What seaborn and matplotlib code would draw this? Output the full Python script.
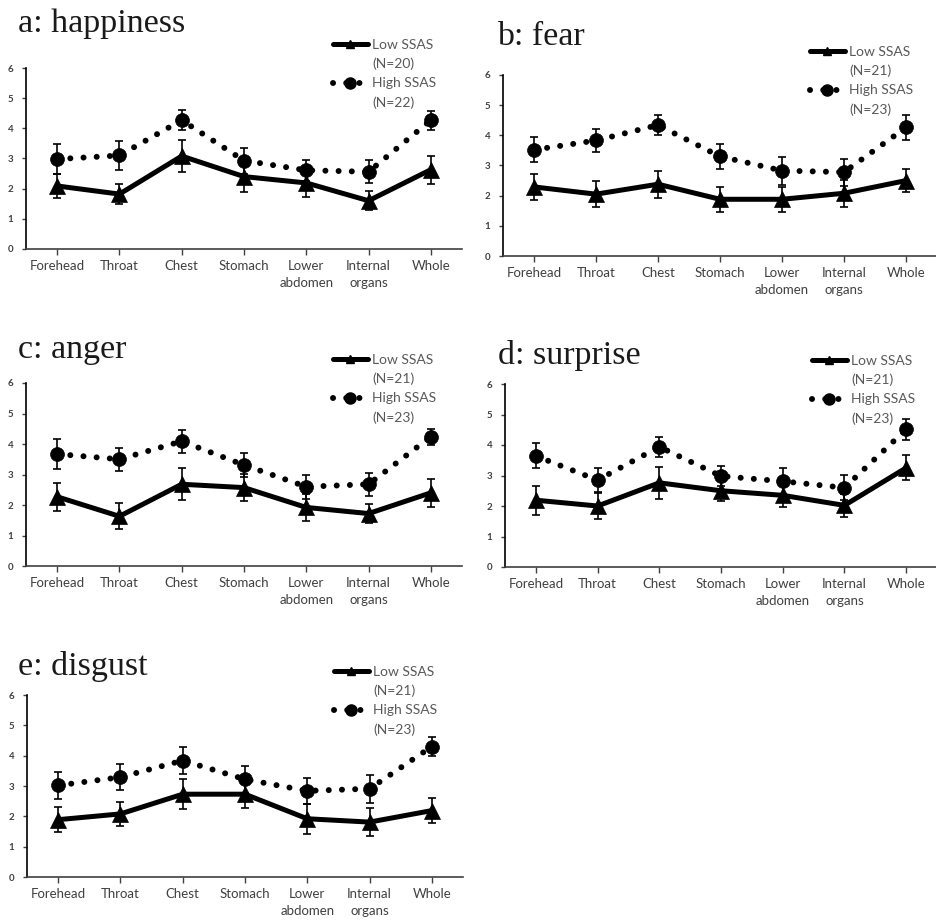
import pandas
import matplotlib
matplotlib.use('Agg')
import matplotlib.pyplot as plt
from matplotlib.lines import Line2D
import seaborn as sns

regions = ['Forehead', 'Throat', 'Chest', 'Stomach', 'Lower\nabdomen', 'Internal\norgans', 'Whole']
panelTitles = ['a: happiness', 'b: fear', 'c: anger', 'd: surprise', 'e: disgust']
lowN = [20, 21, 21, 21, 21]
highN = [22, 23, 23, 23, 23]

happinessLow = [2.09, 1.82, 3.08, 2.40, 2.19, 1.60, 2.63]
happinessLowErr = [0.40, 0.33, 0.52, 0.50, 0.45, 0.31, 0.46]
happinessHigh = [2.98, 3.10, 4.27, 2.93, 2.61, 2.56, 4.27]
happinessHighErr = [0.50, 0.47, 0.34, 0.43, 0.35, 0.38, 0.32]

fearLow = [2.29, 2.05, 2.38, 1.88, 1.88, 2.08, 2.50]
fearLowErr = [0.44, 0.43, 0.45, 0.42, 0.42, 0.44, 0.38]
fearHigh = [3.52, 3.83, 4.34, 3.30, 2.83, 2.78, 4.26]
fearHighErr = [0.42, 0.38, 0.34, 0.42, 0.46, 0.45, 0.41]

angerLow = [2.27, 1.63, 2.68, 2.57, 1.92, 1.72, 2.40]
angerLowErr = [0.46, 0.42, 0.53, 0.45, 0.43, 0.31, 0.45]
angerHigh = [3.67, 3.50, 4.09, 3.31, 2.60, 2.68, 4.24]
angerHighErr = [0.48, 0.37, 0.37, 0.38, 0.40, 0.37, 0.26]

surpriseLow = [2.19, 2.00, 2.76, 2.50, 2.35, 2.02, 3.25]
surpriseLowErr = [0.47, 0.41, 0.53, 0.35, 0.39, 0.38, 0.41]
surpriseHigh = [3.64, 2.85, 3.94, 2.98, 2.81, 2.60, 4.51]
surpriseHighErr = [0.41, 0.38, 0.33, 0.33, 0.42, 0.41, 0.34]

disgustLow = [1.89, 2.08, 2.73, 2.73, 1.92, 1.81, 2.19]
disgustLowErr = [0.42, 0.40, 0.49, 0.47, 0.49, 0.45, 0.42]
disgustHigh = [3.02, 3.29, 3.84, 3.22, 2.84, 2.91, 4.30]
disgustHighErr = [0.44, 0.43, 0.44, 0.45, 0.44, 0.46, 0.32]

lowSeries = [happinessLow, fearLow, angerLow, surpriseLow, disgustLow]
lowErrSeries = [happinessLowErr, fearLowErr, angerLowErr, surpriseLowErr, disgustLowErr]
highSeries = [happinessHigh, fearHigh, angerHigh, surpriseHigh, disgustHigh]
highErrSeries = [happinessHighErr, fearHighErr, angerHighErr, surpriseHighErr, disgustHighErr]

W, H = 937, 922
# axes boxes in pixels: left, top, right, bottom
axesBoxes = [(26, 68, 462, 249), (503, 75, 937, 256), (26, 383, 462, 566),
             (505, 384, 937, 567), (27, 695, 463, 877)]
titlePos = [(18, 32), (497, 45), (18, 358), (498, 364), (18, 675)]

sns.set_style('ticks')
plt.rcParams['font.family'] = ['Lato', 'DejaVu Sans']

tickColor = '#404040'
legendColor = '#595959'
dotStyle = (0, (0.01, 2.2))


def drawPanel(fig, box, title, tpos, low, lowErr, high, highErr, nLow, nHigh):
    left, top, right, bottom = box
    ax = fig.add_axes([left / W, 1 - bottom / H, (right - left) / W, (bottom - top) / H])
    lowData = pandas.DataFrame({'region': regions, 'score': low, 'err': lowErr})
    highData = pandas.DataFrame({'region': regions, 'score': high, 'err': highErr})

    ax.errorbar(lowData.region, lowData.score, yerr=lowData.err, fmt='none',
                ecolor='black', elinewidth=1.2, capsize=3, capthick=1.2, zorder=2)
    ax.errorbar(highData.region, highData.score, yerr=highData.err, fmt='none',
                ecolor='black', elinewidth=1.2, capsize=3, capthick=1.2, zorder=2)
    sns.lineplot(data=lowData, x='region', y='score', ax=ax, color='black', linewidth=3.6,
                 marker='^', markersize=11, markeredgecolor='black', markeredgewidth=0.5,
                 errorbar=None, sort=False, zorder=3)
    sns.lineplot(data=highData, x='region', y='score', ax=ax, color='black', linewidth=4.3,
                 linestyle=dotStyle, dash_capstyle='round', marker='o', markersize=10,
                 markeredgecolor='black', markeredgewidth=0.5, errorbar=None, sort=False, zorder=3)

    ax.set_xlim(-0.5, 6.5)
    ax.set_ylim(0, 6)
    ax.set_yticks(range(7))
    ax.set_xticks(range(len(regions)), regions, linespacing=1.45)
    ax.set_xlabel('')
    ax.set_ylabel('')
    ax.tick_params(axis='x', length=4, width=1, pad=4, labelsize=9.5, labelcolor=tickColor, color=tickColor)
    ax.tick_params(axis='y', length=3, width=1, pad=6, labelsize=7, labelcolor=tickColor, color=tickColor)
    for lbl in ax.get_yticklabels():
        lbl.set_fontweight('bold')
    sns.despine(ax=ax)
    ax.spines['left'].set_color('black')
    ax.spines['bottom'].set_color(tickColor)
    ax.spines['left'].set_linewidth(1.2)
    ax.spines['bottom'].set_linewidth(1.2)

    fig.text(tpos[0] / W, 1 - tpos[1] / H, title, family='Liberation Serif', fontsize=24.5,
             va='baseline', ha='left', color='#1a1a1a')

    handles = [Line2D([], [], color='black', linewidth=3.6, marker='^', markersize=6),
               Line2D([], [], linestyle='none'),
               Line2D([], [], color='black', linewidth=4.3, linestyle=dotStyle,
                      dash_capstyle='round', marker='o', markersize=8),
               Line2D([], [], linestyle='none')]
    labels = ['Low SSAS', '(N=%d)' % nLow, 'High SSAS', '(N=%d)' % nHigh]
    leg = ax.legend(handles, labels, loc='upper left',
                    bbox_to_anchor=((left + 307) / W, 1 - (top - 29) / H),
                    bbox_transform=fig.transFigure, frameon=False, fontsize=10,
                    handlelength=2.5, handletextpad=0.3, borderpad=0, borderaxespad=0,
                    labelspacing=0.5)
    for t in leg.get_texts():
        t.set_color(legendColor)


fig = plt.figure(figsize=(W / 100, H / 100), dpi=100)
for i in range(len(panelTitles)):
    drawPanel(fig, axesBoxes[i], panelTitles[i], titlePos[i], lowSeries[i], lowErrSeries[i],
              highSeries[i], highErrSeries[i], lowN[i], highN[i])

fig.savefig('out.png', dpi=100)
